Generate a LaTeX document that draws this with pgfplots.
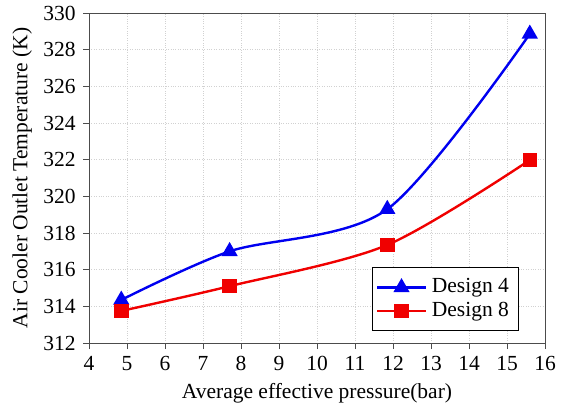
\documentclass[border=0pt]{standalone}
\usepackage{pgfplots}
\pgfplotsset{compat=1.18}
\usepackage{fontspec}
\setmainfont{Liberation Serif}
\definecolor{dblue}{RGB}{0,0,240}
\definecolor{dred}{RGB}{240,0,0}
\newcommand{\chartfont}{\fontsize{21.5}{25}\selectfont}
\begin{document}
\chartfont
\begin{tikzpicture}
\begin{axis}[
  name=ax,
  scale only axis,
  width=456pt, height=330pt,
  xmin=4, xmax=16, ymin=312, ymax=330,
  xtick={4,5,...,16}, ytick={312,314,...,330},
  tick align=outside, tick pos=left,
  major tick length=6pt,
  tick style={black!70, line width=0.8pt},
  grid=major,
  grid style={dotted, black!18, line width=0.6pt},
  axis line style={black!70, line width=0.9pt},
  /pgf/number format/assume math mode=true,
  /pgf/number format/1000 sep={},
  ticklabel style={font=\chartfont},
  label style={font=\chartfont},
  xlabel={Average effective pressure(bar)},
  ylabel={Air Cooler Outlet Temperature (K)},
  xlabel style={yshift=2pt},
  ylabel style={yshift=-3pt},
  legend style={at={(0.62,0.036)}, anchor=south west, draw=black,
    line width=0.8pt, font=\chartfont,
    inner xsep=4pt, inner ysep=9pt, row sep=2pt,
    nodes={inner xsep=5pt}},
  legend cell align=left,
  legend image code/.code={
    \draw[#1, mark repeat=2, mark phase=2] plot coordinates {(0cm,0cm) (0.85cm,0cm) (1.7cm,0cm)};
  },
]
\addplot[dblue, line width=2.4pt, smooth, mark=triangle*, mark size=7pt,
  mark options={solid}] coordinates {
  (4.85,314.35) (7.7,317.0) (11.85,319.3) (15.6,328.86)
};
\addlegendentry{Design 4\hspace{8pt}}
\addplot[dred, line width=2.4pt, smooth, mark=square*, mark size=6pt,
  mark options={solid}] coordinates {
  (4.85,313.75) (7.7,315.1) (11.85,317.35) (15.6,321.98)
};
\addlegendentry{Design 8\hspace{8pt}}
\end{axis}
\pgfresetboundingbox
\path ([xshift=-89pt,yshift=-62pt]ax.south west) rectangle ([xshift=21pt,yshift=13pt]ax.north east);
\end{tikzpicture}
\end{document}
